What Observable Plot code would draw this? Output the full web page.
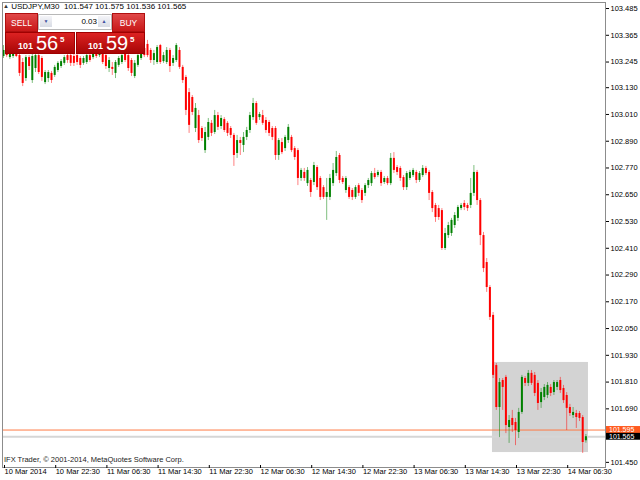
<!DOCTYPE html>
<html><head><meta charset="utf-8">
<script src="https://cdn.jsdelivr.net/npm/d3@7"></script>
<script src="https://cdn.jsdelivr.net/npm/@observablehq/plot@0.6"></script>
<style>
body{margin:0;background:#fff;}
#wrap{position:relative;width:640px;height:480px;overflow:hidden;font-family:"Liberation Sans",Arial,sans-serif;}
#wrap svg{position:absolute;left:0;top:0;}
.ov{position:absolute;}
#hdr{left:3px;top:1px;font-size:8px;color:#000;white-space:pre;line-height:11px;}
#hdr .tri{font-size:6px;color:#333;vertical-align:1px;}
.btn{background:linear-gradient(#e04848,#c81818);color:#fff;font-size:8.5px;text-align:center;line-height:18px;border:1px solid #b01010;box-sizing:border-box;}
.mid{background:#fff;border:1px solid #b8b8b8;box-sizing:border-box;}
.arr{position:absolute;top:1px;width:12px;height:11px;background:linear-gradient(#f4f4f8,#d8dce4);color:#4050a0;font-size:5px;text-align:center;line-height:11px;}
.val{position:absolute;right:14px;top:0;font-size:8px;line-height:13px;color:#000;}
.big{background:linear-gradient(#dc2222,#a80606);color:#fff;box-sizing:border-box;border:1px solid #a00000;}
.big span{position:absolute;}
.s1{font-size:9px;font-weight:bold;top:8px;}
.s2{font-size:20px;top:-1px;}
.s3{font-size:8px;top:2px;font-weight:bold;}
#copy{left:4px;top:455px;font-size:7.5px;color:#222;}
</style></head><body><div id="wrap"></div>
<script>
// ---- data (USDJPY, M30) ----
const openP=[103.270,103.306,103.265,103.270,103.288,103.274,103.243,103.171,103.265,103.162,
103.216,103.274,103.261,103.153,103.171,103.194,103.185,103.207,103.225,103.239,
103.274,103.274,103.270,103.274,103.261,103.239,103.243,103.274,103.265,103.292,
103.274,103.288,103.274,103.216,103.221,103.194,103.230,103.243,103.283,103.274,
103.252,103.180,103.230,103.261,103.306,103.324,103.297,103.252,103.243,103.319,
103.247,103.243,103.297,103.239,103.252,103.297,103.221,103.176,103.108,103.086,
102.947,103.005,102.947,102.848,102.907,102.970,102.929,103.005,102.956,102.987,
102.970,102.947,102.916,102.835,102.893,102.871,102.907,102.938,102.996,103.059,
102.996,103.005,102.983,102.974,102.947,102.947,102.826,102.884,102.857,102.893,
102.907,102.857,102.848,102.723,102.750,102.700,102.714,102.705,102.772,102.723,
102.682,102.638,102.638,102.700,102.745,102.826,102.723,102.669,102.682,102.669,
102.638,102.691,102.669,102.656,102.691,102.700,102.745,102.736,102.750,102.705,
102.723,102.700,102.813,102.772,102.768,102.727,102.682,102.723,102.736,102.750,
102.714,102.736,102.768,102.750,102.660,102.602,102.588,102.579,102.409,102.467,
102.476,102.512,102.544,102.588,102.611,102.602,102.602,102.656,102.750,
102.624,102.467,102.346,102.234,102.109,101.884,101.696,101.817,101.831,101.606,
101.647,101.629,101.584,101.674,101.826,101.804,101.849,101.840,101.804,101.718,
101.741,101.750,101.786,101.763,101.786,101.817,101.781,101.750,101.696,101.660,
101.669,101.669,101.651,101.547];
const highP=[103.319,103.315,103.288,103.297,103.297,103.283,103.261,103.274,103.274,103.279,
103.283,103.283,103.270,103.207,103.207,103.203,103.230,103.247,103.256,103.274,
103.283,103.283,103.279,103.283,103.270,103.270,103.283,103.288,103.297,103.301,
103.306,103.297,103.283,103.265,103.243,103.252,103.270,103.283,103.292,103.283,
103.261,103.252,103.283,103.306,103.315,103.342,103.306,103.297,103.319,103.324,
103.288,103.310,103.306,103.274,103.328,103.310,103.230,103.185,103.126,103.095,
103.059,103.028,102.956,102.952,102.992,102.983,103.028,103.019,103.005,102.996,
102.978,102.956,102.925,102.916,102.907,102.929,102.952,103.019,103.082,103.068,
103.019,103.028,102.996,102.983,102.956,102.956,102.902,102.902,102.916,102.965,
102.916,102.866,102.857,102.768,102.768,102.772,102.723,102.795,102.781,102.732,
102.691,102.723,102.741,102.790,102.844,102.835,102.732,102.732,102.691,102.678,
102.691,102.700,102.678,102.700,102.723,102.754,102.768,102.759,102.759,102.732,
102.732,102.835,102.839,102.781,102.777,102.736,102.754,102.759,102.768,102.759,
102.754,102.781,102.777,102.759,102.669,102.611,102.602,102.588,102.499,102.526,
102.544,102.570,102.602,102.611,102.624,102.611,102.723,102.781,102.759,
102.633,102.481,102.364,102.243,102.122,101.893,101.826,101.826,101.840,101.660,
101.683,101.647,101.692,101.840,101.835,101.862,101.862,101.853,101.817,101.781,
101.799,101.808,101.799,101.817,101.817,101.831,101.795,101.763,101.710,101.696,
101.683,101.678,101.660,101.575];
const lowP=[103.261,103.265,103.256,103.261,103.265,103.180,103.135,103.158,103.207,103.149,
103.198,103.189,103.158,103.144,103.153,103.149,103.176,103.198,103.216,103.230,
103.239,103.225,103.225,103.230,103.216,103.230,103.234,103.243,103.256,103.261,
103.265,103.234,103.212,103.198,103.185,103.171,103.221,103.234,103.243,103.203,
103.180,103.171,103.221,103.252,103.265,103.265,103.239,103.230,103.234,103.234,
103.239,103.234,103.198,103.225,103.243,103.212,103.149,103.005,102.925,103.005,
102.929,102.880,102.889,102.835,102.893,102.911,102.920,102.938,102.943,102.929,
102.911,102.902,102.777,102.813,102.826,102.839,102.893,102.925,102.983,102.961,
102.983,102.961,102.925,102.911,102.893,102.804,102.804,102.830,102.844,102.880,
102.839,102.804,102.691,102.710,102.710,102.687,102.638,102.691,102.669,102.624,
102.629,102.535,102.624,102.687,102.732,102.700,102.696,102.656,102.629,102.624,
102.629,102.642,102.611,102.642,102.678,102.687,102.718,102.727,102.687,102.696,
102.691,102.691,102.745,102.736,102.710,102.669,102.669,102.714,102.727,102.700,
102.705,102.727,102.736,102.624,102.570,102.526,102.535,102.400,102.400,102.454,
102.463,102.499,102.530,102.579,102.579,102.575,102.588,102.642,102.602,
102.422,102.301,102.212,102.086,101.826,101.683,101.561,101.683,101.579,101.535,
101.584,101.525,101.557,101.665,101.790,101.790,101.795,101.745,101.683,101.692,
101.727,101.736,101.745,101.750,101.772,101.759,101.714,101.593,101.656,101.647,
101.602,101.633,101.490,101.536];
const closeP=[103.297,103.274,103.283,103.288,103.270,103.194,103.149,103.265,103.225,103.270,
103.274,103.198,103.176,103.198,103.198,103.162,103.221,103.239,103.247,103.265,
103.252,103.239,103.239,103.243,103.230,103.261,103.274,103.252,103.288,103.270,
103.297,103.243,103.225,103.252,103.212,103.243,103.261,103.274,103.252,103.216,
103.194,103.239,103.274,103.297,103.274,103.274,103.252,103.283,103.310,103.243,
103.274,103.297,103.225,103.261,103.319,103.221,103.162,103.028,102.961,103.019,
103.037,102.893,102.902,102.929,102.974,102.925,103.005,102.952,102.992,102.938,
102.925,102.916,102.826,102.893,102.880,102.907,102.938,103.005,103.059,102.970,
103.010,102.970,102.938,102.925,102.907,102.826,102.893,102.839,102.907,102.952,
102.848,102.817,102.723,102.759,102.723,102.759,102.660,102.781,102.682,102.638,
102.638,102.660,102.723,102.759,102.817,102.714,102.705,102.723,102.638,102.638,
102.682,102.656,102.624,102.691,102.714,102.745,102.727,102.750,102.700,102.723,
102.700,102.813,102.759,102.750,102.723,102.682,102.745,102.750,102.759,102.714,
102.745,102.768,102.745,102.656,102.588,102.548,102.548,102.409,102.476,102.512,
102.535,102.557,102.593,102.602,102.593,102.588,102.656,102.750,102.624,
102.467,102.319,102.234,102.100,101.840,101.696,101.808,101.786,101.615,101.638,
101.615,101.593,101.674,101.831,101.804,101.849,101.804,101.759,101.714,101.763,
101.786,101.795,101.759,101.808,101.808,101.772,101.727,101.692,101.669,101.674,
101.651,101.647,101.539,101.565];
const yTicks=[103.485,103.365,103.245,103.130,103.010,102.890,102.770,102.650,102.530,102.410,102.290,102.170,102.050,101.930,101.810,101.690,101.450];
const xTickIdx=[0,16,32,48,64,80,96,112,128,144,160,176];
const xTickLabels=["10 Mar 2014","10 Mar 22:30","11 Mar 06:30","11 Mar 14:30","11 Mar 22:30","12 Mar 06:30","12 Mar 14:30","12 Mar 22:30","13 Mar 06:30","13 Mar 14:30","13 Mar 22:30","14 Mar 06:30"];
const askPrice=101.595, bidPrice=101.565;
const boxBars=[152.8,182.8];      // rectangle object: bar range
const boxPrices=[101.898,101.494]; // rectangle object: price range
const symbol="USDJPY,M30";

const candles=openP.map((o,i)=>({i,open:o,high:highP[i],low:lowP[i],close:closeP[i],up:closeP[i]>=o}));
const labelMap=new Map(xTickIdx.map((d,k)=>[d,xTickLabels[k]]));

const plot=Plot.plot({
  width:640,height:480,
  marginLeft:2,marginRight:35,marginTop:2,marginBottom:13,
  style:{fontFamily:"'Liberation Sans',Arial,sans-serif",fontSize:"7.5px",background:"#fff",color:"#000"},
  x:{type:"linear",domain:[-0.3125,188.125]},
  y:{domain:[101.427,103.512]},
  marks:[
    Plot.rect([{a:boxBars[0],b:boxBars[1],t:boxPrices[0],u:boxPrices[1]}],{x1:"a",x2:"b",y1:"u",y2:"t",fill:"#d3d3d3"}),
    Plot.ruleY([bidPrice],{stroke:"#d6d6d6",strokeWidth:2}),
    Plot.ruleY([askPrice],{stroke:"#ff7a45",strokeWidth:1}),
    Plot.ruleX(candles,{x:"i",y1:"low",y2:"high",stroke:d=>d.up?"#008000":"#ff0000",strokeOpacity:0.5}),
    Plot.ruleX(candles,{x:"i",y1:"open",y2:"close",stroke:d=>d.up?"#008000":"#ff0000",strokeWidth:2}),
    Plot.frame({stroke:"#8c8c8c"}),
    Plot.axisY(yTicks,{anchor:"right",tickSize:3,tickPadding:2,tickFormat:d=>d.toFixed(3),label:null}),
    Plot.axisX(xTickIdx,{anchor:"bottom",tickSize:3,tickPadding:0,tickFormat:d=>labelMap.get(d),textAnchor:"start",dx:1,dy:-2,label:null})
  ]
});
const wrap=document.getElementById("wrap");
wrap.appendChild(plot);

// current price labels on the price axis
const ys=plot.scale("y");
const svg=d3.select(plot);
const yA=ys.apply(askPrice), yB=ys.apply(bidPrice);
const mid=(yA+yB)/2;
svg.append("rect").attr("x",606).attr("y",yA-3.5).attr("width",34).attr("height",mid-(yA-3.5)+0.2).attr("fill","#ff5a1e");
svg.append("rect").attr("x",606).attr("y",mid).attr("width",34).attr("height",yB+3.5-mid).attr("fill","#000");
[[askPrice,yA-0.3],[bidPrice,yB+0.3]].forEach(([p,y])=>{
  svg.append("text").attr("x",609).attr("y",y).attr("dy","0.34em").attr("fill","#fff").attr("text-anchor","start")
     .attr("font-size","7px").attr("font-family","'Liberation Sans',Arial,sans-serif").text(p.toFixed(3));
});

// header + one-click trading panel
const last=candles[candles.length-1];
const f=v=>v.toFixed(3);
const bidStr=f(bidPrice), askStr=f(askPrice);
const html=`
<div class="ov" id="hdr"><span class="tri">▲</span> ${symbol}  ${f(last.open)} ${f(last.high)} ${f(last.low)} ${f(last.close)}</div>
<div class="ov btn" style="left:5px;top:13px;width:33px;height:19px;">SELL</div>
<div class="ov mid" style="left:38px;top:14px;width:74px;height:16px;">
  <div class="arr" style="left:1px;">▼</div>
  <div class="val">0.03</div>
  <div class="arr" style="right:1px;">▲</div>
</div>
<div class="ov btn" style="left:112px;top:13px;width:33px;height:19px;">BUY</div>
<div class="ov big" style="left:5px;top:32px;width:70px;height:22px;">
  <span class="s1" style="left:12px;">${bidStr.slice(0,3)}</span><span class="s2" style="left:30px;">${bidStr.slice(4,6)}</span><span class="s3" style="left:54px;">${bidStr.slice(6)}</span>
</div>
<div class="ov big" style="left:76px;top:32px;width:69px;height:22px;">
  <span class="s1" style="left:11px;">${askStr.slice(0,3)}</span><span class="s2" style="left:29px;">${askStr.slice(4,6)}</span><span class="s3" style="left:53px;">${askStr.slice(6)}</span>
</div>
<div class="ov" id="copy">IFX Trader, © 2001-2014, MetaQuotes Software Corp.</div>`;
wrap.insertAdjacentHTML("beforeend",html);
</script>
</body></html>
